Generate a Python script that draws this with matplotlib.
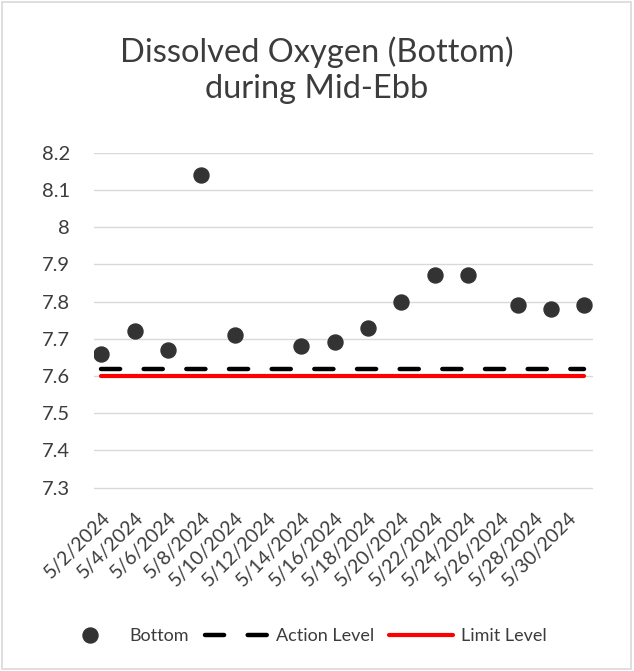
import pandas as pd
import matplotlib.pyplot as plt
from matplotlib.patches import Rectangle

plt.rcParams['font.family'] = ['Lato', 'DejaVu Sans']

# data
dates = ['2024-05-02', '2024-05-04', '2024-05-06', '2024-05-08', '2024-05-10',
         '2024-05-14', '2024-05-16', '2024-05-18', '2024-05-20', '2024-05-22',
         '2024-05-24', '2024-05-27', '2024-05-29', '2024-05-31']
bottom_do = [7.66, 7.72, 7.67, 8.14, 7.71, 7.68, 7.69, 7.73, 7.80, 7.87,
             7.87, 7.79, 7.78, 7.79]
action_level = 7.62
limit_level = 7.60
tick_dates = pd.date_range('2024-05-02', '2024-05-30', freq='2D')
y_ticks = [7.3, 7.4, 7.5, 7.6, 7.7, 7.8, 7.9, 8.0, 8.1, 8.2]
y_labels = ['7.3', '7.4', '7.5', '7.6', '7.7', '7.8', '7.9', '8', '8.1', '8.2']

x = pd.to_datetime(dates)
txt = '#3c3c3c'

fig = plt.figure(figsize=(6.34, 6.71), dpi=100)
ax = fig.add_axes([0.148, 0.2455, 0.787, 0.527])

ax.plot(x, [action_level] * len(x), color='black', lw=3.2,
        dashes=(4.3, 5.3), dash_capstyle='round',
        label='Action Level', zorder=3)
ax.plot(x, [limit_level] * len(x), color='#ff0000', lw=3.0,
        solid_capstyle='round', label='Limit Level', zorder=3)
ax.plot(x, bottom_do, 'o', color='#333333', ms=10.8, label='Bottom', zorder=4)

ax.set_xlim(x[0] - pd.Timedelta(hours=11), x[-1] + pd.Timedelta(hours=12))
ax.set_ylim(7.25, 8.2)
ax.set_yticks(y_ticks)
ax.set_yticklabels(y_labels)
ax.set_xticks(tick_dates)
ax.set_xticklabels([f'{d.month}/{d.day}/{d.year}' for d in tick_dates],
                   rotation=45, ha='right', rotation_mode='anchor')

ax.grid(axis='y', color='#d9d9d9', lw=1.0)
ax.set_axisbelow(True)
for s in ax.spines.values():
    s.set_visible(False)
ax.tick_params(axis='both', length=0, colors=txt)
ax.tick_params(axis='y', pad=17, labelsize=14.5)
ax.tick_params(axis='x', pad=2, labelsize=14)

fig.suptitle('Dissolved Oxygen (Bottom)\nduring Mid-Ebb', y=0.946,
             fontsize=23.5, color=txt, linespacing=1.25)

handles, labels = ax.get_legend_handles_labels()
order = [2, 0, 1]
fig.legend([handles[i] for i in order], [labels[i] for i in order],
           loc='center', bbox_to_anchor=(0.477, 0.052), ncol=3, frameon=False,
           fontsize=13, labelcolor=txt, handlelength=3.5, columnspacing=0.85,
           handletextpad=0.45)

fig.patches.append(Rectangle((0.003, 0.003), 0.992, 0.994, transform=fig.transFigure,
                             fill=False, edgecolor='#d9d9d9', lw=1.2))

fig.savefig('out.png', dpi=100)
plt.close(fig)
